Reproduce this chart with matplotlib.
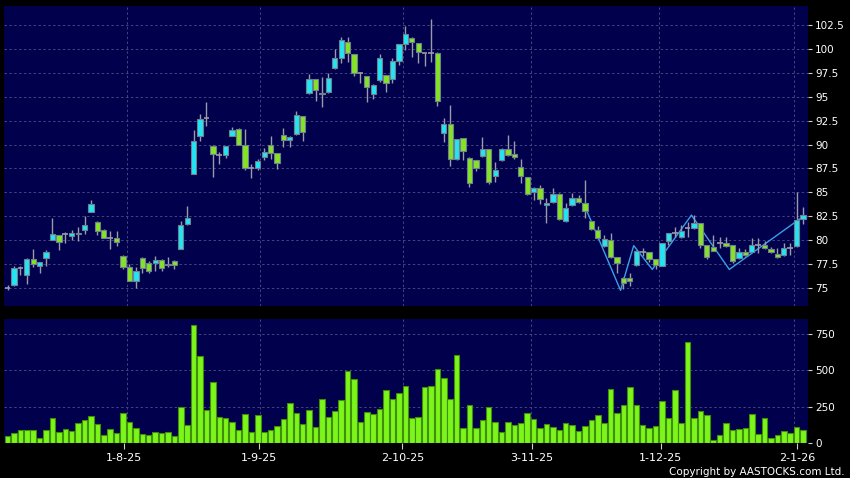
import matplotlib
matplotlib.use("Agg")
import matplotlib.pyplot as plt
import numpy as np

# daily candles, oldest first (index 0 = 8 Jul 2025)
opens = [75.0, 75.3, 77.0, 76.3, 78.0, 77.3, 78.1, 80.0, 80.5, 80.6,
         80.45, 80.75, 81.0, 82.9, 81.9, 81.05, 80.2, 80.2, 78.35, 77.2,
         75.7, 78.1, 77.57, 77.6, 77.9, 77.35, 77.8, 79.06, 81.7, 86.9,
         90.9, 92.8, 89.9, 88.9, 88.9, 90.94, 91.67, 90.0, 87.5, 87.57,
         88.7, 89.93, 89.09, 90.98, 90.45, 91.1, 92.97, 95.45, 96.85, 95.28,
         95.5, 98.08, 99.13, 100.8, 99.48, 97.55, 97.17, 95.3, 96.78, 97.27,
         96.9, 98.8, 100.6, 101.2, 100.68, 99.57, 99.64, 99.64, 91.19, 92.13,
         88.5, 90.66, 88.64, 88.33, 88.8, 89.5, 86.7, 88.4, 89.5, 89.0,
         87.6, 86.56, 85.0, 85.49, 83.65, 83.96, 84.86, 82.0, 83.68, 84.44,
         83.92, 81.98, 81.08, 79.4, 79.97, 78.16, 76.0, 76.0, 77.36, 78.7,
         78.7, 77.97, 77.31, 79.83, 80.7, 80.28, 81.22, 81.22, 81.75, 79.48,
         79.23, 79.72, 79.72, 79.48, 78.08, 78.78, 78.78, 79.48, 79.48, 79.02,
         78.53, 78.43, 79.13, 79.37, 82.2]
highs = [75.3, 77.3, 77.25, 78.1, 79.0, 77.7, 78.95, 82.3, 80.55, 80.85,
         81.0, 81.3, 82.55, 84.2, 81.95, 81.15, 80.9, 80.9, 78.4, 77.5,
         77.2, 78.2, 77.75, 78.3, 77.95, 78.2, 77.85, 82.0, 83.6, 91.5,
         93.16, 94.5, 89.95, 89.2, 89.9, 91.8, 91.7, 91.67, 88.0, 88.5,
         89.6, 90.9, 89.1, 91.7, 90.9, 93.53, 93.0, 97.4, 96.9, 97.06,
         97.5, 100.0, 101.3, 101.3, 99.5, 97.6, 97.2, 96.35, 99.5, 97.3,
         99.1, 100.6, 102.43, 101.25, 100.7, 99.6, 103.16, 99.7, 92.76, 94.15,
         90.6, 90.7, 88.7, 88.4, 90.84, 89.55, 88.2, 89.6, 91.0, 90.4,
         88.5, 86.6, 85.55, 85.76, 84.38, 85.4, 84.9, 83.85, 84.97, 84.76,
         86.28, 82.0, 81.42, 80.55, 80.7, 78.2, 76.1, 76.5, 78.9, 79.17,
         78.75, 78.0, 79.7, 80.75, 81.33, 81.57, 81.92, 82.6, 81.8, 79.5,
         80.52, 80.28, 80.28, 79.5, 79.13, 79.0, 80.17, 80.17, 79.83, 79.3,
         79.13, 79.65, 79.65, 85.0, 83.5]
lows = [74.7, 75.2, 76.3, 75.4, 77.15, 76.5, 77.25, 80.0, 78.9, 79.7,
        80.0, 79.85, 80.65, 82.9, 80.55, 80.15, 79.0, 79.35, 76.95, 75.7,
        75.0, 76.5, 76.55, 76.7, 76.7, 77.2, 76.9, 79.06, 81.6, 86.9,
        90.4, 91.9, 86.6, 88.0, 88.55, 90.9, 90.0, 87.3, 86.5, 87.3,
        88.4, 88.45, 87.4, 89.7, 89.7, 91.0, 90.4, 95.3, 94.6, 93.99,
        95.4, 97.9, 98.6, 98.7, 97.2, 96.5, 94.5, 94.8, 96.6, 95.56,
        96.5, 98.35, 99.9, 99.2, 98.6, 98.28, 98.7, 94.1, 90.3, 87.8,
        88.4, 88.4, 85.5, 87.2, 88.7, 85.85, 86.1, 88.3, 88.8, 88.5,
        86.0, 84.7, 84.2, 83.75, 81.77, 83.9, 82.05, 81.9, 83.6, 83.9,
        82.3, 81.0, 80.1, 79.3, 78.1, 76.56, 74.83, 75.17, 77.3, 78.3,
        77.7, 76.92, 77.3, 79.44, 80.28, 80.2, 80.35, 81.15, 79.13, 77.97,
        78.8, 79.13, 79.3, 77.55, 78.0, 78.3, 78.7, 78.67, 79.0, 78.6,
        78.05, 78.35, 78.43, 79.3, 81.7]
closes = [75.0, 77.1, 77.0, 78.0, 77.45, 77.65, 78.75, 80.6, 79.8, 80.6,
          80.7, 80.6, 81.6, 83.8, 80.9, 80.2, 80.2, 79.75, 77.2, 75.7,
          76.7, 77.0, 76.74, 77.9, 77.1, 77.45, 77.4, 81.56, 82.3, 90.4,
          92.7, 92.8, 88.96, 88.9, 89.9, 91.56, 90.0, 87.5, 87.5, 88.26,
          89.17, 89.09, 88.04, 90.45, 90.77, 93.1, 91.3, 96.85, 95.77, 95.45,
          96.96, 99.06, 100.94, 99.58, 97.55, 97.55, 96.0, 96.3, 99.06, 96.43,
          98.8, 100.51, 101.56, 100.72, 99.67, 99.57, 99.64, 94.57, 92.13, 88.5,
          90.56, 89.34, 85.95, 87.52, 89.5, 86.06, 87.3, 89.5, 88.9, 88.67,
          86.75, 84.83, 85.49, 84.27, 83.9, 84.86, 82.22, 83.33, 84.44, 83.96,
          83.05, 81.18, 80.2, 80.1, 78.2, 77.6, 75.45, 75.73, 78.82, 78.7,
          78.0, 77.38, 79.65, 80.7, 80.7, 80.98, 81.22, 81.75, 79.48, 78.25,
          78.88, 79.72, 79.37, 77.8, 78.78, 78.4, 79.48, 79.48, 79.13, 78.7,
          78.18, 79.2, 79.13, 82.1, 82.66]
volumes = [50, 71, 93, 93, 89, 39, 89, 176, 82, 98,
           87, 137, 162, 187, 135, 59, 96, 73, 207, 150,
           107, 64, 55, 78, 75, 80, 48, 253, 125, 812,
           597, 228, 422, 182, 178, 148, 89, 201, 78, 192,
           82, 93, 123, 171, 274, 207, 135, 230, 114, 306,
           182, 223, 301, 497, 442, 150, 217, 205, 237, 369,
           306, 349, 397, 173, 182, 390, 394, 508, 449, 308,
           604, 107, 267, 103, 162, 251, 148, 78, 148, 125,
           139, 207, 169, 107, 135, 114, 93, 139, 125, 87,
           121, 162, 194, 137, 376, 210, 262, 390, 267, 125,
           109, 123, 292, 176, 365, 139, 695, 176, 221, 194,
           25, 55, 141, 93, 100, 105, 203, 64, 178, 36,
           59, 87, 75, 116, 91]

# zigzag overlay (x in candle index units)
zz_x = [90.25, 95.55, 97.6, 100.5, 106.6, 112.5, 123.7]
zz_y = [83.1, 74.7, 79.4, 76.9, 82.6, 76.9, 82.3]

tick_pos = [18.07, 39.21, 61.53, 81.78, 101.82, 123.12]
tick_labels = ["1-8-25", "1-9-25", "2-10-25", "3-11-25", "1-12-25", "2-1-26"]
vgrid_pos = [18.54, 39.41, 61.59, 81.53, 101.56, 122.62]
price_ticks = [75, 77.5, 80, 82.5, 85, 87.5, 90, 92.5, 95, 97.5, 100, 102.5]
vol_ticks = [0, 250, 500, 750]

BG = "#00004c"
GRID = "#44447e"
UP = "#22e4f2"
DOWN = "#84e424"
EDGE = "#708090"
WICK = "#9a9aa8"

x = np.arange(len(opens))
o = np.array(opens)
c = np.array(closes)

fig = plt.figure(figsize=(8.5, 4.78), dpi=100, facecolor="black")
ax = fig.add_axes([0.0047, 0.3598, 0.9459, 0.6276], facecolor=BG)
axv = fig.add_axes([0.0047, 0.0722, 0.9459, 0.2605], facecolor=BG, sharex=ax)

for a in (ax, axv):
    for s in a.spines.values():
        s.set_visible(False)
    for g in vgrid_pos:
        a.axvline(g, color=GRID, lw=0.7, ls=(0, (2.5, 2.5)), zorder=0)
    a.yaxis.grid(True, color=GRID, lw=0.7, ls=(0, (2.5, 2.5)), zorder=0)
    a.set_axisbelow(True)
    a.yaxis.tick_right()
    a.tick_params(axis="y", colors="#cfcfcf", labelcolor="white", labelsize=7.5,
                  length=3, width=0.8, pad=2)

# zigzag under the candles
ax.plot(zz_x, zz_y, color="#3aa0e8", lw=1.0, zorder=1)

# wicks
ax.vlines(x, lows, highs, color=WICK, lw=1.0, zorder=2)

doji = o == c
up = (c > o) & ~doji
dn = (c < o) & ~doji
ax.bar(x[up], (c - o)[up], bottom=o[up], width=0.82, color=UP,
       edgecolor=EDGE, linewidth=0.8, zorder=3)
ax.bar(x[dn], (o - c)[dn], bottom=c[dn], width=0.82, color=DOWN,
       edgecolor=EDGE, linewidth=0.8, zorder=3)
ax.hlines(o[doji], x[doji] - 0.45, x[doji] + 0.45, color=WICK, lw=1.2, zorder=3)

ax.set_ylim(73.06, 104.54)
ax.set_yticks(price_ticks)
ax.set_yticklabels([f"{p:g}" for p in price_ticks])
ax.set_xlim(-0.56, 124.77)
ax.tick_params(axis="x", bottom=False, labelbottom=False)

axv.bar(x, volumes, width=0.86, color="#7cf51a", edgecolor="#3f8f0a",
        linewidth=0.8, zorder=2)
axv.set_ylim(0, 853)
axv.set_yticks(vol_ticks)
axv.set_xticks(tick_pos)
axv.set_xticklabels(tick_labels)
axv.tick_params(axis="x", colors="#cfcfcf", labelcolor="white", labelsize=8,
                length=4, width=0.8, pad=3)

fig.text(0.994, 0.013, "Copyright by AASTOCKS.com Ltd.", color="white",
         fontsize=7.5, ha="right", va="center")

fig.savefig("out.png", dpi=100, facecolor="black")
